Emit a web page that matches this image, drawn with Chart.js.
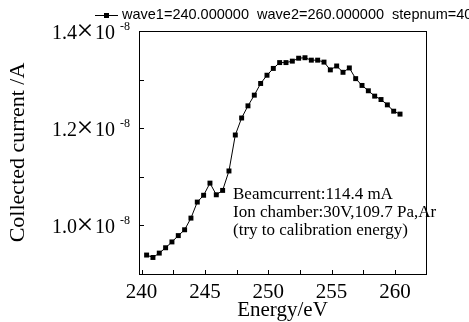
<!doctype html>
<html lang="en">
  <head>
    <meta charset="utf-8">
    <title>Collected current vs energy</title>
    <style>
      body { margin: 0; background: #fff; }
      .chartBox { width: 469px; height: 322px; }
    </style>
  </head>
  <body>
    <div class="chartBox">
      <canvas id="myChart"></canvas>
    </div>
    <script src="https://cdn.jsdelivr.net/npm/chart.js/dist/chart.umd.min.js"></script>
    <script>
    // data (current in units of 1e-8 A)
    const energy = [240.4, 240.9, 241.4, 241.9, 242.4, 242.9, 243.4, 243.9, 244.4, 244.9,
                    245.4, 245.9, 246.4, 246.9, 247.4, 247.9, 248.4, 248.9, 249.4, 249.9,
                    250.4, 250.9, 251.4, 251.9, 252.4, 252.9, 253.4, 253.9, 254.4, 254.9,
                    255.4, 255.9, 256.4, 256.9, 257.4, 257.9, 258.4, 258.9, 259.4, 259.9, 260.4];
    const current = [0.939, 0.934, 0.943, 0.954, 0.966, 0.979, 0.991, 1.015, 1.048, 1.062,
                     1.087, 1.063, 1.072, 1.112, 1.186, 1.221, 1.246, 1.268, 1.292, 1.309,
                     1.323, 1.335, 1.335, 1.338, 1.344, 1.345, 1.340, 1.340, 1.336, 1.320,
                     1.328, 1.315, 1.324, 1.302, 1.288, 1.277, 1.266, 1.259, 1.248, 1.235, 1.229];
    const legendText = 'wave1=240.000000  wave2=260.000000  stepnum=40';
    const noteLines = ['Beamcurrent:114.4 mA', 'Ion chamber:30V,109.7 Pa,Ar', '(try to calibration energy)'];
    const yExponent = '-8';

    const serif = '"Liberation Serif", "Times New Roman", serif';
    const isMult = (v, s) => Math.abs(v / s - Math.round(v / s)) < 1e-6;

    // frame, inward ticks, y labels, legend and note
    const decor = {
      id: 'decor',
      afterDraw(chart) {
        const {ctx, chartArea: a, scales: {x, y}} = chart;
        ctx.save();
        ctx.strokeStyle = '#000';
        ctx.lineWidth = 1;
        ctx.strokeRect(a.left + 0.5, a.top + 0.5, a.right - a.left, a.bottom - a.top);

        ctx.beginPath();
        x.ticks.forEach(t => {
          const px = Math.round(x.getPixelForValue(t.value)) + 0.5;
          ctx.moveTo(px, a.bottom);
          ctx.lineTo(px, a.bottom - 4);
        });
        y.ticks.forEach(t => {
          const py = Math.round(y.getPixelForValue(t.value)) + 0.5;
          ctx.moveTo(a.left, py);
          ctx.lineTo(a.left + 5, py);
        });
        ctx.stroke();

        // y tick labels like 1.2x10^-8
        ctx.fillStyle = '#000';
        ctx.textBaseline = 'alphabetic';
        const r = a.left - 4;
        y.ticks.forEach(t => {
          if (Math.round(t.value * 10) % 2 !== 0) return;
          const py = y.getPixelForValue(t.value);
          ctx.font = '20px ' + serif;
          ctx.textAlign = 'right';
          ctx.fillText(t.value.toFixed(1), r - 58, py + 7.5);
          ctx.textAlign = 'left';
          ctx.fillText('10', r - 40, py + 7.5);
          ctx.font = '30px ' + serif;
          ctx.textAlign = 'center';
          ctx.fillText('\u00d7', r - 50, py + 9);
          ctx.font = '12px ' + serif;
          ctx.textAlign = 'left';
          ctx.fillText(yExponent, r - 15, py - 1);
        });

        // legend
        ctx.beginPath();
        ctx.moveTo(95, 15.5);
        ctx.lineTo(118, 15.5);
        ctx.stroke();
        ctx.fillRect(104, 13, 5, 5);
        ctx.font = '14.5px "Liberation Sans", Arial, sans-serif';
        ctx.textAlign = 'left';
        ctx.fillText(legendText, 122, 19);

        // note
        ctx.font = '17px ' + serif;
        noteLines.forEach((s, i) => ctx.fillText(s, 233, 199 + i * 18));
        ctx.restore();
      }
    };

    const data = {
      datasets: [{
        data: energy.map((e, i) => ({x: e, y: current[i]})),
        borderColor: '#000',
        backgroundColor: '#000',
        borderWidth: 1,
        pointStyle: 'rect',
        pointRadius: 3.5,
        pointBorderWidth: 0,
        tension: 0
      }]
    };

    const config = {
      type: 'line',
      data,
      options: {
        responsive: true,
        maintainAspectRatio: false,
        animation: false,
        layout: { padding: { top: 31, right: 43, left: 0, bottom: 0 } },
        plugins: { legend: { display: false }, tooltip: { enabled: false } },
        scales: {
          x: {
            type: 'linear',
            min: 239.8,
            max: 262.45,
            grid: { display: false },
            border: { display: false },
            ticks: {
              stepSize: 2.5,
              includeBounds: false,
              autoSkip: false,
              maxRotation: 0,
              padding: 0,
              color: '#000',
              font: { family: serif, size: 21, lineHeight: 1 },
              callback: v => isMult(v, 5) ? String(v) : ''
            },
            title: {
              display: true,
              text: 'Energy/eV',
              color: '#000',
              font: { family: serif, size: 21, lineHeight: 1 },
              padding: { top: 0, bottom: 1 }
            },
            afterFit(s) { s.height = 48; }
          },
          y: {
            min: 0.9,
            max: 1.4,
            grid: { display: false },
            border: { display: false },
            ticks: { stepSize: 0.1, display: false },
            title: {
              display: true,
              text: 'Collected current /A',
              color: '#000',
              font: { family: serif, size: 22, lineHeight: 1 },
              padding: { top: 7, bottom: 0 }
            },
            afterFit(s) { s.width = 139; }
          }
        }
      },
      plugins: [decor]
    };

    const myChart = new Chart(document.getElementById('myChart'), config);
    </script>
  </body>
</html>
